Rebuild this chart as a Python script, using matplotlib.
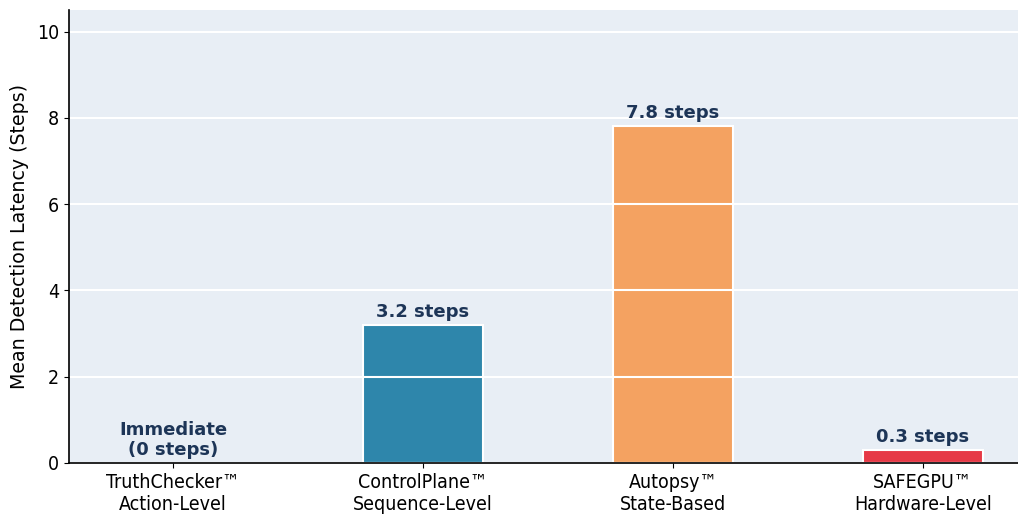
import matplotlib
matplotlib.use("Agg")
import matplotlib.pyplot as plt

systems = ["TruthChecker™\nAction-Level", "ControlPlane™\nSequence-Level",
           "Autopsy™\nState-Based", "SAFEGPU™\nHardware-Level"]
latency = [0.0, 3.2, 7.8, 0.3]
value_labels = ["Immediate\n(0 steps)", "3.2 steps", "7.8 steps", "0.3 steps"]
bar_colors = ["#2E86AB", "#2E86AB", "#F4A261", "#E63946"]
yticks = [0, 2, 4, 6, 8, 10]

fig = plt.figure(figsize=(10.18, 5.19), dpi=100)
ax = fig.add_axes([69 / 1018, 56 / 519, (1018 - 69) / 1018, (463 - 10) / 519])
ax.set_facecolor("#E8EEF5")

x = list(range(len(systems)))
ax.bar(x, latency, width=0.48, color=bar_colors, edgecolor="white", linewidth=1.5, zorder=1)
ax.yaxis.grid(True, color="white", linewidth=1.5, zorder=2)
ax.set_axisbelow(False)

for xi, v, lab in zip(x, latency, value_labels):
    ax.text(xi, v + 0.1, lab, ha="center", va="bottom", fontsize=13,
            fontweight="bold", color="#1D3557", zorder=3, linespacing=1.15)

ax.set_xlim(-0.416, 3.38)
ax.set_ylim(0, 10.5)
ax.set_yticks(yticks)
ax.set_xticks(x)
ax.set_xticklabels(systems, fontsize=14, fontstretch="condensed", linespacing=1.2)
ax.tick_params(axis="x", pad=4)
for t in ax.get_yticklabels():
    t.set_fontsize(14)
    t.set_fontstretch("condensed")
ax.set_ylabel("Mean Detection Latency (Steps)", fontsize=13.7, labelpad=6)
for s in ["top", "right"]:
    ax.spines[s].set_visible(False)
for s in ["left", "bottom"]:
    ax.spines[s].set_linewidth(1.2)
    ax.spines[s].set_zorder(4)

fig.savefig("out.png", dpi=100)
